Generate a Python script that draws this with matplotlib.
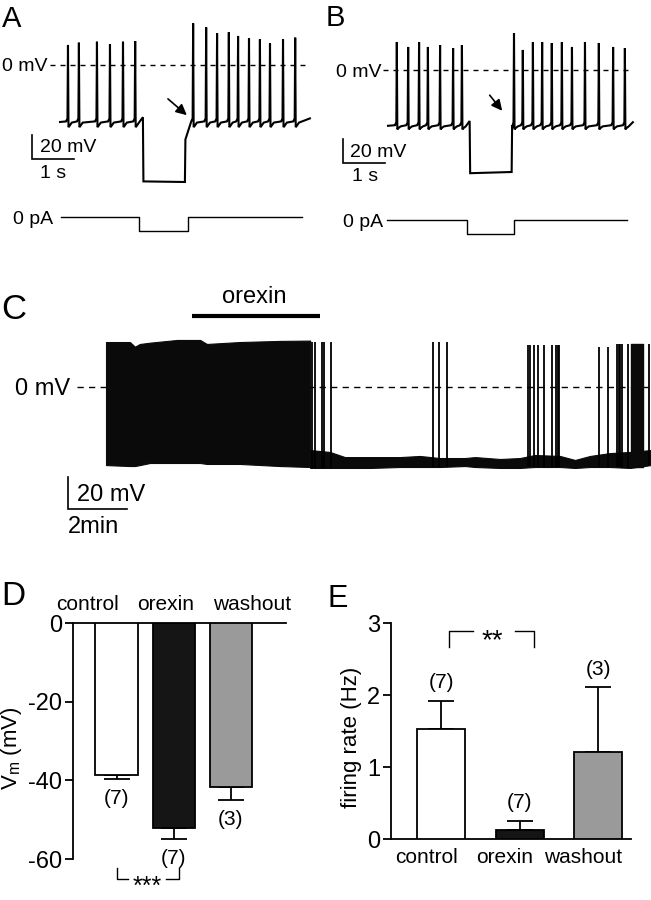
import numpy as np
import matplotlib
matplotlib.use('Agg')
import matplotlib.pyplot as plt
import matplotlib.transforms as mtrans

plt.rcParams['font.family'] = ['Liberation Sans', 'DejaVu Sans']
plt.rcParams['mathtext.fontset'] = 'custom'
plt.rcParams['mathtext.rm'] = 'Liberation Sans'
plt.rcParams['mathtext.it'] = 'Liberation Sans:italic'
plt.rcParams['axes.unicode_minus'] = False

# ---------------- data ----------------
# Panel A : membrane potential (s, mV) and injected current (pA)
a_spike_t = [0.19, 0.45, 0.88, 1.19, 1.50, 1.79,
             3.17, 3.48, 3.74, 4.02, 4.24, 4.50, 4.76, 5.00, 5.31, 5.60]
a_spike_peak = [16.7, 18.6, 19.4, 17.2, 19.4, 20.0,
                34.7, 31.4, 26.4, 27.2, 24.2, 22.2, 21.4, 18.1, 21.4, 22.8]
a_threshold, a_ahp = -44.5, -50.8
a_step_on, a_step_off = 1.98, 2.98
a_hyper_v = [-97.0, -97.5]
a_rebound_v = -62.0
a_end_t = 5.95
a_cur_t = [0.02, 1.88, 3.05, 5.76]
a_cur_step = -100.0

# Panel B
b_spike_t = [0.21, 0.48, 0.74, 0.95, 1.24, 1.55, 1.76,
             3.00, 3.21, 3.45, 3.67, 3.90, 4.14, 4.38, 4.69, 5.02, 5.36, 5.64]
b_spike_peak = [23.3, 19.2, 23.3, 19.2, 20.8, 18.3, 20.8,
                30.8, 16.7, 23.3, 23.3, 22.5, 23.3, 19.2, 23.3, 22.5, 19.2, 18.3]
b_threshold, b_ahp = -43.5, -48.5
b_step_on, b_step_off = 1.95, 2.95
b_hyper_v = [-86.0, -85.0]
b_rebound_v = -48.0
b_end_t = 5.83
b_cur_t = [-0.02, 1.88, 3.00, 5.69]
b_cur_step = -100.0

# Panel C : long recording (min, mV)
c_block_t = [0.0, 0.81, 0.98, 1.15, 1.49, 2.41, 3.19, 3.42, 4.54, 5.90, 6.92]
c_block_top = [28.1, 28.1, 25.2, 26.9, 27.7, 29.4, 29.4, 26.9, 28.1, 28.8, 29.0]
c_block_bot = [-48.8, -49.4, -49.4, -48.8, -47.5, -47.5, -47.5, -48.1, -48.1, -49.4, -50.0]
c_base_t = [6.92, 7.59, 8.10, 8.95, 9.97, 10.64, 11.32, 12.17, 12.51,
            13.36, 14.03, 14.54, 15.39, 15.90, 16.41, 17.08, 17.76, 18.47]
c_base_top = [-39.4, -40.6, -43.8, -43.8, -43.8, -43.1, -44.4, -44.4, -43.8,
              -45.0, -44.4, -42.5, -43.1, -45.6, -43.1, -41.3, -40.6, -39.4]
c_base_bot = [-50.6, -50.6, -50.6, -50.6, -50.0, -50.0, -50.0, -49.4, -50.0,
              -50.6, -50.6, -50.0, -50.0, -50.6, -50.0, -50.0, -50.6, -48.8]
c_spike_t = [6.98, 7.08, 7.32, 7.39, 7.63, 11.08, 11.29, 11.56,
             14.31, 14.37, 14.51, 14.64, 14.85, 15.12, 15.25, 15.32, 15.36,
             16.71, 17.02, 17.32, 17.39, 17.42, 17.49, 17.69, 18.41]
c_spike_peak = [28.1, 28.1, 28.1, 28.1, 28.1, 28.1, 28.1, 28.1,
                26.2, 26.2, 26.2, 26.2, 26.2, 26.2, 26.2, 26.2, 26.2,
                25.0, 25.0, 26.9, 26.9, 26.9, 26.9, 26.9, 26.9]
c_burst_t = [17.80, 18.20]
c_burst_top, c_burst_bot = 26.9, -50.0
c_orexin_t = [2.92, 7.25]

# Panel D : membrane potential
groups = ['control', 'orexin', 'washout']
d_mean = [-38.7, -52.2, -41.7]
d_sem = [1.0, 2.8, 3.3]
d_n = [7, 7, 3]
d_ticks = [0, -20, -40, -60]

# Panel E : firing rate
e_mean = [1.53, 0.125, 1.21]
e_sem = [0.39, 0.125, 0.90]
e_n = [7, 7, 3]
e_ticks = [0, 1, 2, 3]

bar_colors = ['white', '#151515', '#9a9a9a']

# ---------------- layout helpers ----------------
W, H = 651, 900
fig = plt.figure(figsize=(W / 100, H / 100), dpi=100)


def add_ax(x0, y0, x1, y1):
    return fig.add_axes([x0 / W, 1 - y1 / H, (x1 - x0) / W, (y1 - y0) / H])


def trace_axes(x0, x1, y0, y1, t0_px, v0_px, px_t, px_v):
    ax = add_ax(x0, y0, x1, y1)
    ax.set_xlim((x0 - t0_px) / px_t, (x1 - t0_px) / px_t)
    ax.set_ylim((v0_px - y1) / px_v, (v0_px - y0) / px_v)
    ax.axis('off')
    return ax


def ftext(x, y, s, size, ha='left', **kw):
    # y is the visual centre of capital letters / digits
    base = y + 0.358 * size * 100 / 72
    fig.text(x / W, 1 - base / H, s, fontsize=size, ha=ha, va='baseline', **kw)


def vm_trace(spk_t, spk_v, thr, ahp, step_on, step_off, hyper_v, rebound_v, t_end):
    pts = [(0.0, thr - 3.0)]
    for s, p in zip(spk_t, spk_v):
        pts += [(s - 0.045, thr - 2.5), (s - 0.012, thr), (s, p),
                (s + 0.012, ahp - 1.0), (s + 0.035, ahp), (s + 0.09, thr - 3.5)]
    pts += [(step_on - 0.006, thr + 1.0), (step_on + 0.006, hyper_v[0]),
            (step_off - 0.006, hyper_v[1]), (step_off + 0.006, rebound_v)]
    pts.append((t_end, thr))
    pts.sort()
    t, v = zip(*pts)
    return np.array(t), np.array(v)


def current_trace(ct, step):
    t = [ct[0], ct[1], ct[1], ct[2], ct[2], ct[3]]
    i = [0, 0, step, step, 0, 0]
    return t, i


def scalebar(ax, t, v, dt, dv, lw=1.2):
    ax.plot([t, t, t + dt], [v + dv, v, v], color='k', lw=lw,
            solid_joinstyle='miter', clip_on=False)


TR_LW = 1.5

# ---------------- Panel A ----------------
axA = trace_axes(0, 325, 20, 200, 60, 65, 42, 1.2)
t, v = vm_trace(a_spike_t, a_spike_peak, a_threshold, a_ahp, a_step_on,
                a_step_off, a_hyper_v, a_rebound_v, a_end_t)
axA.plot(t, v, color='k', lw=TR_LW, solid_joinstyle='miter')
axA.plot([-0.24, a_end_t], [0, 0], color='k', lw=1.0, ls=(0, (3.6, 3.6)))
scalebar(axA, -0.667, -78.3, 1.0, 20.0)
axA.annotate('', xy=(3.07, -43.3), xytext=(2.52, -26.7),
             arrowprops=dict(arrowstyle='-|>', lw=1.2, color='k', mutation_scale=16))
axAi = trace_axes(0, 325, 200, 250, 60, 217, 42, 0.14)
ct, ci = current_trace(a_cur_t, a_cur_step)
axAi.plot(ct, ci, color='k', lw=1.0)

# ---------------- Panel B ----------------
axB = trace_axes(325, 651, 20, 200, 388, 70, 42, 1.2)
t, v = vm_trace(b_spike_t, b_spike_peak, b_threshold, b_ahp, b_step_on,
                b_step_off, b_hyper_v, b_rebound_v, b_end_t)
axB.plot(t, v, color='k', lw=TR_LW, solid_joinstyle='miter')
axB.plot([-0.12, 5.81], [0, 0], color='k', lw=1.0, ls=(0, (3.6, 3.6)))
scalebar(axB, -1.07, -77.5, 1.0, 20.0)
axB.annotate('', xy=(2.76, -35.8), xytext=(2.38, -19.2),
             arrowprops=dict(arrowstyle='-|>', lw=1.2, color='k', mutation_scale=16))
axBi = trace_axes(325, 651, 200, 250, 388, 220, 42, 0.14)
ct, ci = current_trace(b_cur_t, b_cur_step)
axBi.plot(ct, ci, color='k', lw=1.0)

# ---------------- Panel C ----------------
axC = trace_axes(0, 651, 280, 540, 106, 387, 29.5, 1.6)
axC.plot([-0.98, 18.47], [0, 0], color='k', lw=1.0, ls=(0, (4.5, 3.8)), zorder=1)
axC.fill_between(c_block_t, c_block_bot, c_block_top, color='#0a0a0a', lw=0.8,
                 edgecolor='#0a0a0a', zorder=2)
axC.fill_between(c_base_t, c_base_bot, c_base_top, color='#0a0a0a', lw=0.8,
                 edgecolor='#0a0a0a', zorder=2)
base_at = np.interp(c_spike_t, c_base_t, c_base_bot)
axC.vlines(c_spike_t, base_at, c_spike_peak, color='k', lw=1.3, zorder=2)
axC.fill_between(c_burst_t, [c_burst_bot] * 2, [c_burst_top] * 2, color='#0a0a0a', zorder=2)
axC.plot(c_orexin_t, [44.4, 44.4], color='k', lw=3.0, solid_capstyle='butt')
scalebar(axC, -1.29, -76.25, 2.0, 20.0)

# ---------------- Panel D ----------------
x = np.arange(len(groups))
axD = add_ax(73, 623, 286, 859)
axD.set_xlim(-0.760, 2.961)
axD.set_ylim(-60, 0)
axD.bar(x, d_mean, width=0.734, color=bar_colors, edgecolor='k', lw=1.3, zorder=3)
axD.errorbar(x, d_mean, yerr=[d_sem, [0] * 3], fmt='none', ecolor='k',
             elinewidth=1.3, capsize=9.5, capthick=1.3, zorder=2)
for sp in ['bottom', 'right']:
    axD.spines[sp].set_visible(False)
for sp in ['top', 'left']:
    axD.spines[sp].set_linewidth(1.3)
axD.set_xticks([])
axD.set_yticks(d_ticks)
axD.set_yticklabels([str(v) for v in d_ticks], fontsize=17)
axD.tick_params(axis='y', length=6, width=1.3, pad=2)
for i, (m, s, n) in enumerate(zip(d_mean, d_sem, d_n)):
    axD.annotate(f'({n})', xy=(i, m - s), xytext=(0, -18), textcoords='offset points',
                 ha='center', va='baseline', fontsize=15, annotation_clip=False)
d_label_x = [-0.515, 0.865, 2.367]
for lx, g in zip(d_label_x, groups):
    axD.text(lx, 0, g, fontsize=15, ha='center', va='baseline',
             transform=axD.transData + mtrans.ScaledTranslation(0, 13 / 100, fig.dpi_scale_trans))
# significance bracket
axD.plot([0, 0, 0.2], [-62.3, -65.1, -65.1], color='k', lw=1.0, clip_on=False)
axD.plot([0.865, 1.09, 1.09], [-65.1, -65.1, -62.3], color='k', lw=1.0, clip_on=False)
axD.text(0.53, -68.9, '***', fontsize=18, ha='center', va='baseline', clip_on=False)
fig.text(12 / W, 1 - 748 / H, 'V$_{\\rm m}$ (mV)', fontsize=16, rotation=90,
         ha='center', va='center')

# ---------------- Panel E ----------------
axE = add_ax(391, 623, 631, 839)
axE.set_xlim(-0.637, 2.420)
axE.set_ylim(0, 3)
axE.bar(x, e_mean, width=0.611, color=bar_colors, edgecolor='k', lw=1.3, zorder=3)
axE.errorbar(x, e_mean, yerr=[[0] * 3, e_sem], fmt='none', ecolor='k',
             elinewidth=1.3, capsize=9.5, capthick=1.3, zorder=2)
for sp in ['top', 'right']:
    axE.spines[sp].set_visible(False)
for sp in ['bottom', 'left']:
    axE.spines[sp].set_linewidth(1.3)
axE.set_yticks(e_ticks)
axE.set_yticklabels([str(v) for v in e_ticks], fontsize=17)
axE.tick_params(axis='y', length=6, width=1.3, pad=2)
axE.set_xticks([])
for i, (m, s, n) in enumerate(zip(e_mean, e_sem, e_n)):
    axE.annotate(f'({n})', xy=(i, m + s), xytext=(0, 9), textcoords='offset points',
                 ha='center', va='baseline', fontsize=15)
for i, g in enumerate(groups):
    axE.text(i - 0.19, -0.333, g, fontsize=15, ha='center', va='baseline', clip_on=False)
axE.plot([0.1, 0.1, 0.41], [2.67, 2.89, 2.89], color='k', lw=1.0, clip_on=False)
axE.plot([0.94, 1.18, 1.18], [2.89, 2.89, 2.67], color='k', lw=1.0, clip_on=False)
axE.text(0.65, 2.65, '**', fontsize=20, ha='center', va='baseline', clip_on=False)
fig.text(351 / W, 1 - 737 / H, 'firing rate (Hz)', fontsize=16, rotation=90,
         ha='center', va='center')

# ---------------- text labels ----------------
ftext(2, 17, 'A', 21)
ftext(326, 16, 'B', 21)
ftext(1, 307, 'C', 25)
ftext(1, 593, 'D', 24)
ftext(327, 596, 'E', 22)

ftext(48, 64, '0 mV', 14, ha='right')
ftext(40, 145, '20 mV', 14)
ftext(40, 171, '1 s', 14)
ftext(53, 217, '0 pA', 14, ha='right')

ftext(381, 70, '0 mV', 14, ha='right')
ftext(350, 150, '20 mV', 14)
ftext(352, 174, '1 s', 14)
ftext(383, 220, '0 pA', 14, ha='right')

ftext(254, 295, 'orexin', 17, ha='center')
ftext(70, 387, '0 mV', 17, ha='right')
ftext(77, 493, '20 mV', 17)
ftext(68, 525, '2min', 17)

fig.savefig('out.png', dpi=100)
